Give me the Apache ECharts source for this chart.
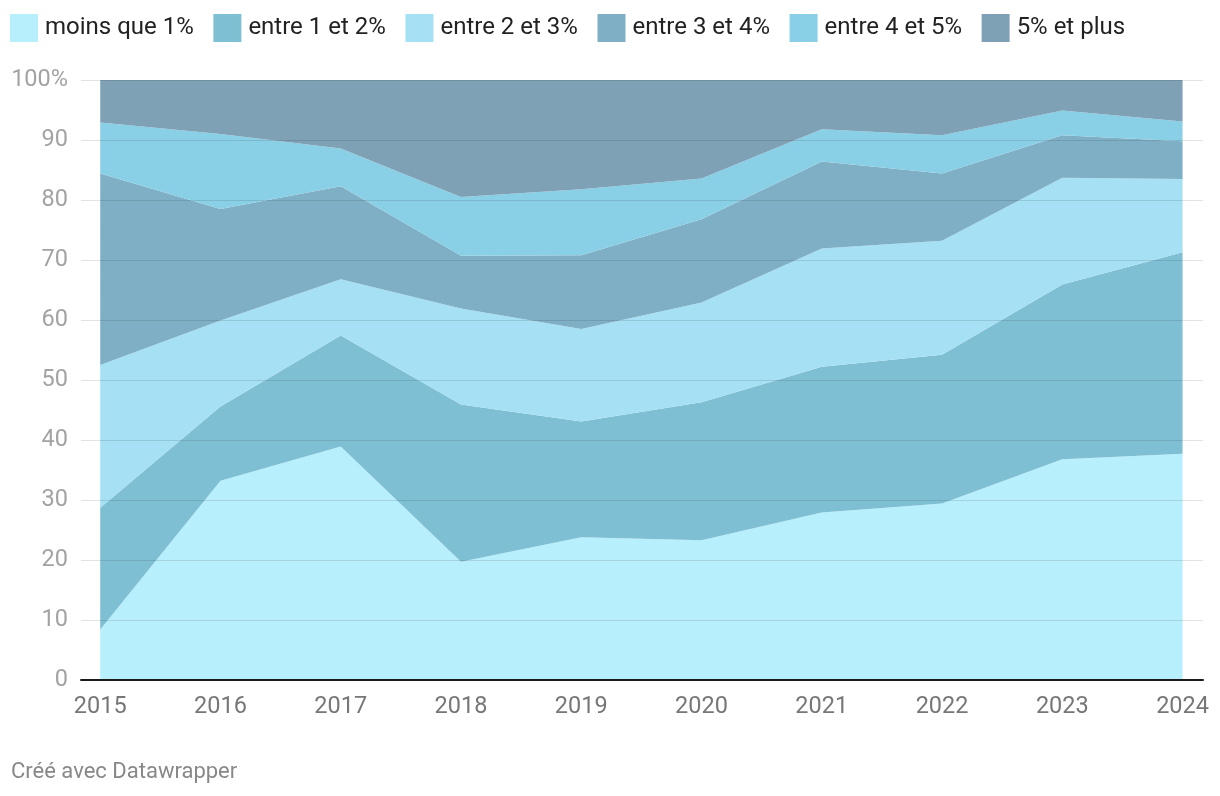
<!DOCTYPE html>
<html>
<head>
<meta charset="utf-8">
<script src="https://cdn.jsdelivr.net/npm/echarts@6/dist/echarts.min.js"></script>
<style>
html,body{margin:0;padding:0;background:#fff;}
#c{width:1220px;height:796px;}
</style>
</head>
<body>
<div id="c"></div>
<script>
const years = [2015, 2016, 2017, 2018, 2019, 2020, 2021, 2022, 2023, 2024];
const seriesNames = ['moins que 1%', 'entre 1 et 2%', 'entre 2 et 3%', 'entre 3 et 4%', 'entre 4 et 5%', '5% et plus'];
const moinsQue1 = [8.4, 33.2, 38.9, 19.7, 23.8, 23.3, 27.9, 29.4, 36.8, 37.7];
const entre1et2 = [20.3, 12.4, 18.5, 26.2, 19.3, 23.0, 24.3, 24.8, 29.1, 33.6];
const entre2et3 = [23.8, 14.3, 9.4, 16.0, 15.4, 16.6, 19.7, 19.0, 17.8, 12.2];
const entre3et4 = [31.9, 18.6, 15.5, 8.8, 12.3, 13.9, 14.5, 11.2, 7.1, 6.3];
const entre4et5 = [8.5, 12.5, 6.3, 9.8, 11.0, 6.8, 5.4, 6.4, 4.1, 3.3];
const cinqEtPlus = [7.1, 9.0, 11.4, 19.5, 18.2, 16.4, 8.2, 9.2, 5.1, 6.9];
const yTicks = [0, 10, 20, 30, 40, 50, 60, 70, 80, 90, 100];

const allValues = [moinsQue1, entre1et2, entre2et3, entre3et4, entre4et5, cinqEtPlus];
const colors = ['#b8effc', '#7fbfd4', '#a5e0f5', '#7fafc5', '#89cfe6', '#7fa1b5'];

const chart = echarts.init(document.getElementById('c'), null, {renderer: 'canvas'});
const FONT = 'Roboto, "Noto Sans", sans-serif';

chart.setOption({
  animation: false,
  backgroundColor: '#ffffff',
  color: colors,
  textStyle: {fontFamily: FONT},
  legend: {
    left: 5, top: 9,
    itemWidth: 28, itemHeight: 28, itemGap: 19.6,
    icon: 'rect',
    selectedMode: false,
    textStyle: {fontSize: 24, color: '#222', fontFamily: FONT, padding: [0, 0, 0, 2]},
    data: seriesNames
  },
  grid: {left: 81, right: 17, top: 80, bottom: 116, containLabel: false},
  xAxis: {
    type: 'value',
    min: 2014.84, max: 2024.17,
    z: 6,
    axisLine: {show: true, onZero: false, lineStyle: {color: '#1a1a1a', width: 2}},
    axisTick: {show: false},
    splitLine: {show: false},
    axisLabel: {
      customValues: years,
      fontSize: 23.5, color: '#777', margin: 15, fontFamily: FONT,
      formatter: v => String(v)
    }
  },
  yAxis: {
    type: 'value',
    min: 0, max: 100, interval: 10,
    z: 5,
    axisLine: {show: false},
    axisTick: {show: false},
    splitLine: {show: true, lineStyle: {color: 'rgba(0,0,0,0.11)', width: 1}},
    axisLabel: {
      customValues: yTicks,
      fontSize: 23.5, color: '#a3a3a3', margin: 13, fontFamily: FONT,
      formatter: v => v === 100 ? '100%' : String(v)
    }
  },
  series: seriesNames.map((name, i) => ({
    name: name,
    type: 'line',
    stack: 'total',
    symbol: 'none',
    z: 2,
    encode: {x: 1, y: 0},
    lineStyle: {width: 0},
    areaStyle: {color: colors[i], opacity: 1},
    itemStyle: {color: colors[i]},
    emphasis: {disabled: true},
    data: years.map((y, j) => [allValues[i][j], y])
  })),
  graphic: [{
    type: 'text', left: 11, top: 761,
    style: {text: 'Créé avec Datawrapper', fontSize: 22, fill: '#888', fontFamily: FONT}
  }]
});
</script>
</body>
</html>
